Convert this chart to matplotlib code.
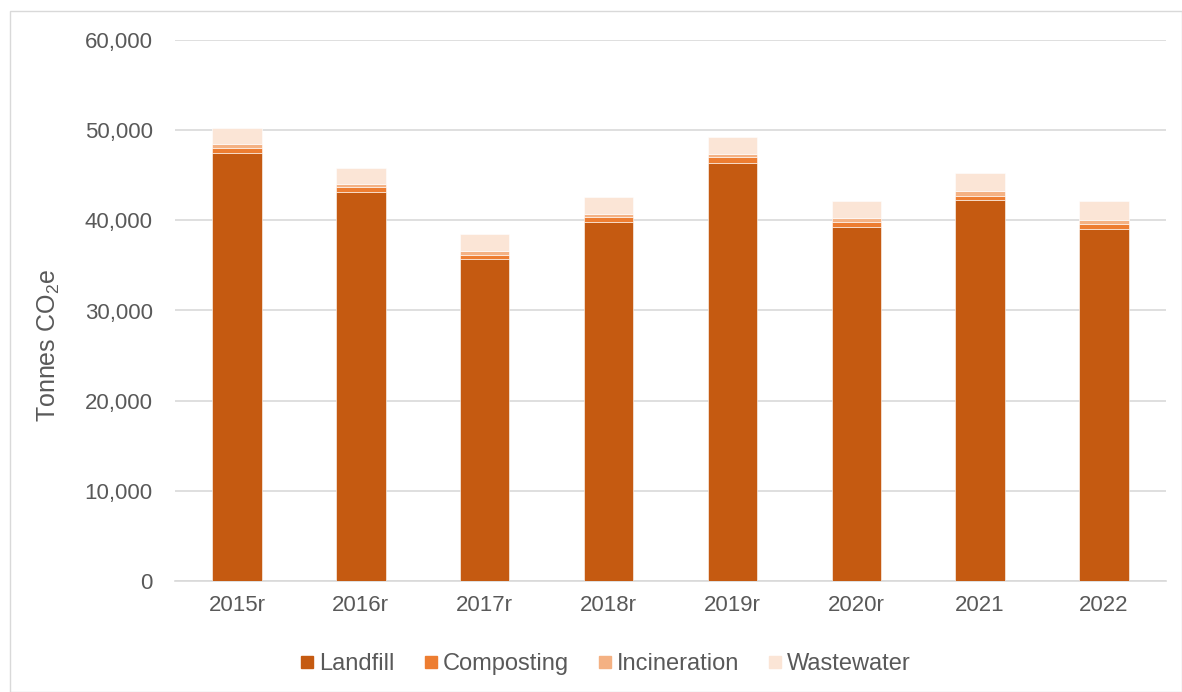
import matplotlib.pyplot as plt
import numpy as np
from matplotlib.patches import Rectangle

plt.rcParams['font.family'] = 'Liberation Sans'

years = ["2015r", "2016r", "2017r", "2018r", "2019r", "2020r", "2021", "2022"]
landfill = [47500, 43150, 35750, 39850, 46400, 39250, 42200, 39050]
composting = [500, 500, 400, 550, 620, 600, 520, 500]
incineration = [450, 400, 450, 300, 330, 400, 550, 480]
wastewater = [1800, 1750, 1850, 1890, 1880, 1880, 2000, 2100]

series = [
    ("Landfill", landfill, "#C55A11"),
    ("Composting", composting, "#ED7D31"),
    ("Incineration", incineration, "#F4B183"),
    ("Wastewater", wastewater, "#FBE5D6"),
]

text_col = "#595959"
grid_col = "#d9d9d9"

W, H = 1182, 692
fig = plt.figure(figsize=(W / 100, H / 100), dpi=100)
ax = fig.add_axes([175 / W, 1 - 581 / H, 991 / W, 541 / H])

x = np.arange(len(years))
bottom = np.zeros(len(years))
for name, vals, col in series:
    ax.bar(x, vals, width=0.4, bottom=bottom, color=col, label=name,
           edgecolor="white", linewidth=0.4, zorder=3)
    bottom += np.array(vals)

ax.set_xlim(-0.5, len(years) - 0.5)
ax.set_ylim(0, 60000)
ax.set_yticks(range(0, 60001, 10000))
ax.set_yticklabels([f"{v:,}" for v in range(0, 60001, 10000)])
ax.set_xticks(x)
ax.set_xticklabels(years)
ax.yaxis.grid(True, color=grid_col, linewidth=1.2, zorder=0)
ax.set_axisbelow(True)

for side in ["top", "right", "left"]:
    ax.spines[side].set_visible(False)
ax.spines["bottom"].set_color(grid_col)
ax.spines["bottom"].set_linewidth(1.2)
ax.tick_params(axis="both", length=0, labelsize=16, colors=text_col)
ax.tick_params(axis="y", pad=16)
ax.tick_params(axis="x", pad=10)

ax.set_ylabel(r"Tonnes CO$\mathregular{_2}$e", fontsize=18, color=text_col)
ax.yaxis.set_label_coords(-0.114, 0.435)

# legend row drawn by hand so every label sits on the same baseline
renderer = fig.canvas.get_renderer()
sq, gap_txt, gap_col = 12, 6, 30
baseline = 670
texts = []
for name, _, col in series:
    t = fig.text(0, 1 - baseline / H, name, fontsize=17, color=text_col,
                 ha="left", va="baseline")
    texts.append(t)
widths = [t.get_window_extent(renderer).width for t in texts]
total = sum(sq + gap_txt + w for w in widths) + gap_col * (len(widths) - 1)
cx = 606 - total / 2
for (name, _, col), t, w in zip(series, texts, widths):
    fig.patches.append(Rectangle((cx / W, 1 - (662 + sq / 2) / H), sq / W, sq / H,
                                 transform=fig.transFigure, color=col))
    t.set_x((cx + sq + gap_txt) / W)
    cx += sq + gap_txt + w + gap_col

# thin frame around the whole chart
fig.patches.append(Rectangle((10 / W, 0.0), 1 - 10 / W, 1 - 11 / H,
                             transform=fig.transFigure, fill=False,
                             edgecolor=grid_col, linewidth=1))

fig.savefig("out.png", dpi=100)
